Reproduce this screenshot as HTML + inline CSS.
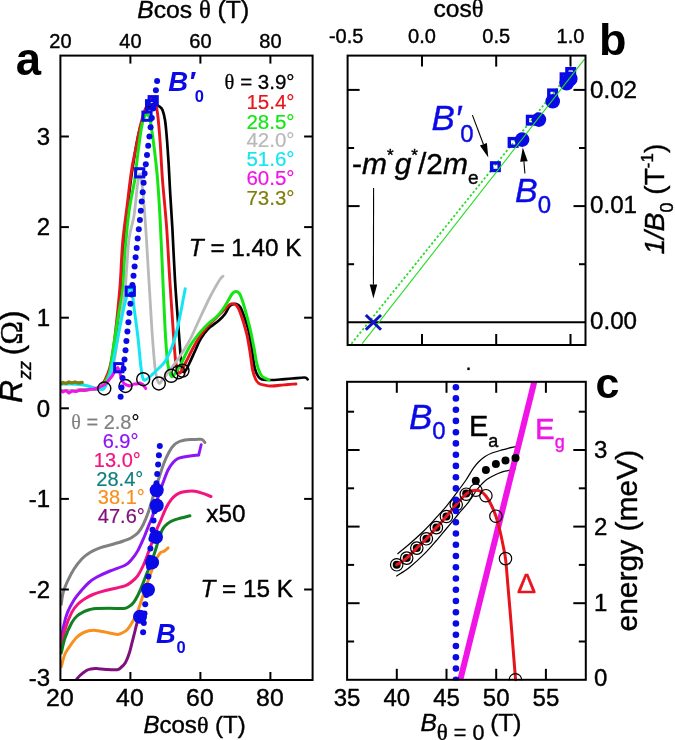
<!DOCTYPE html>
<html lang="en">
<head>
<meta charset="utf-8">
<title>Figure</title>
<style>
html,body{margin:0;padding:0;background:#fff;}
body{width:675px;height:740px;overflow:hidden;font-family:"Liberation Sans",sans-serif;}
svg{display:block;font-family:"Liberation Sans",sans-serif;}
</style>
</head>
<body>
<svg width="675" height="740" viewBox="0 0 675 740">
<rect x="0" y="0" width="675" height="740" fill="#ffffff"/>
<g id="panel-a">
<path d="M61.5,390.5 C63.8,390.5 70.2,390.7 75.0,390.5 C79.8,390.3 85.8,390.0 90.0,389.5 C94.2,389.0 97.0,389.8 100.0,387.5 C103.0,385.2 105.8,381.1 108.0,376.0 C110.2,370.9 111.5,364.7 113.0,357.0 C114.5,349.3 115.7,341.2 117.0,330.0 C118.3,318.8 119.8,304.2 121.0,290.0 C122.2,275.8 123.2,260.0 124.5,245.0 C125.8,230.0 127.1,213.3 128.5,200.0 C129.9,186.7 131.2,176.3 133.0,165.0 C134.8,153.7 136.8,140.8 139.0,132.0 C141.2,123.2 143.7,116.7 146.0,112.0 C148.3,107.3 150.8,104.9 153.0,104.0 C155.2,103.1 157.7,105.4 159.3,106.4 C160.9,107.4 161.6,107.7 162.5,110.0 C163.4,112.3 164.2,115.0 165.0,120.0 C165.8,125.0 166.4,132.5 167.0,140.0 C167.6,147.5 168.1,155.8 168.7,165.0 C169.2,174.2 169.7,184.7 170.3,195.0 C170.9,205.3 171.5,212.8 172.3,227.0 C173.1,241.2 174.0,263.1 175.0,280.0 C176.0,296.9 177.5,314.7 178.5,328.2 C179.5,341.7 180.4,353.9 181.0,361.0 C181.6,368.1 181.8,368.8 182.3,370.6 C182.8,372.4 183.4,372.1 184.0,372.0 C184.6,371.9 185.0,371.7 186.0,370.0 C187.0,368.3 188.5,365.2 190.0,362.0 C191.5,358.8 193.2,354.9 195.0,351.0 C196.8,347.1 198.5,342.5 200.7,338.8 C202.9,335.1 204.9,332.1 208.0,329.0 C211.1,325.9 216.6,322.5 219.4,320.0 C222.2,317.5 223.4,316.2 225.0,314.0 C226.6,311.8 227.8,308.6 229.0,307.0 C230.2,305.4 230.8,305.1 232.0,304.6 C233.2,304.1 234.7,303.6 236.0,304.0 C237.3,304.4 238.7,304.7 240.0,306.7 C241.3,308.7 242.6,312.0 244.0,316.0 C245.4,320.0 247.2,324.8 248.5,330.5 C249.8,336.2 251.0,343.8 252.0,350.0 C253.0,356.2 253.7,363.7 254.7,368.0 C255.7,372.3 256.9,374.2 258.0,376.0 C259.1,377.8 259.2,378.3 261.0,379.0 C262.8,379.7 265.8,379.9 269.0,380.0 C272.2,380.1 276.2,379.8 280.0,379.5 C283.8,379.2 287.9,378.8 292.0,378.5 C296.1,378.2 301.9,377.4 304.5,377.5 C307.1,377.6 307.1,379.0 307.6,379.3" fill="none" stroke="#000000" stroke-width="2.7" stroke-linejoin="round" stroke-linecap="round" />
<path d="M61.5,390.5 C63.8,390.5 70.2,390.7 75.0,390.5 C79.8,390.3 85.8,390.0 90.0,389.5 C94.2,389.0 97.0,390.3 100.0,387.5 C103.0,384.7 106.2,377.6 108.2,372.5 C110.2,367.4 110.7,364.4 112.0,357.0 C113.3,349.6 114.6,340.0 115.9,328.0 C117.2,316.0 119.0,299.1 120.1,285.0 C121.2,270.9 121.4,257.0 122.6,243.3 C123.8,229.6 126.0,214.8 127.5,202.6 C129.0,190.4 130.2,178.8 131.6,170.0 C132.9,161.2 134.1,157.1 135.6,149.6 C137.1,142.1 138.9,132.0 140.5,125.2 C142.1,118.4 143.8,113.0 145.4,108.9 C147.0,104.8 148.8,102.3 150.0,100.5 C151.2,98.7 151.9,98.0 152.7,98.3 C153.5,98.5 154.2,99.4 155.0,102.0 C155.8,104.6 156.8,107.2 157.6,113.8 C158.4,120.4 159.3,130.5 160.1,141.5 C160.9,152.5 161.4,165.8 162.5,180.0 C163.6,194.2 165.4,210.3 166.6,227.0 C167.8,243.7 168.6,261.5 169.8,280.0 C171.0,298.5 172.7,324.3 173.7,337.8 C174.7,351.3 174.9,355.4 175.6,361.0 C176.3,366.6 177.3,369.5 178.0,371.5 C178.7,373.5 179.3,373.2 180.0,373.0 C180.7,372.8 181.0,371.8 182.0,370.0 C183.0,368.2 184.3,365.3 186.0,362.0 C187.7,358.7 189.7,354.3 192.0,350.0 C194.3,345.7 197.3,340.0 200.0,336.0 C202.7,332.0 205.2,329.2 208.0,326.0 C210.8,322.8 214.3,319.7 217.0,317.0 C219.7,314.3 222.0,312.0 224.0,310.0 C226.0,308.0 227.7,306.1 229.0,305.0 C230.3,303.9 230.8,303.6 232.0,303.6 C233.2,303.6 234.7,303.6 236.0,305.0 C237.3,306.4 238.3,307.4 240.0,312.0 C241.7,316.6 244.7,325.9 246.4,332.6 C248.1,339.3 249.0,345.8 250.0,352.0 C251.0,358.2 251.7,365.5 252.6,370.0 C253.5,374.5 254.5,376.8 255.5,379.0 C256.5,381.2 257.4,382.4 258.8,383.4 C260.2,384.4 261.9,384.6 264.0,385.0 C266.1,385.4 268.6,385.9 271.3,386.0 C274.0,386.1 277.2,385.6 280.0,385.3 C282.8,385.1 285.3,384.7 288.0,384.5 C290.7,384.3 294.7,384.1 296.0,384.0" fill="none" stroke="#e8141c" stroke-width="2.9" stroke-linejoin="round" stroke-linecap="round" />
<path d="M61.5,390.5 C63.8,390.5 70.2,390.7 75.0,390.5 C79.8,390.3 85.8,390.0 90.0,389.5 C94.2,389.0 96.8,390.1 100.0,387.5 C103.2,384.9 107.0,379.1 109.0,374.0 C111.0,368.9 110.5,366.2 112.0,357.0 C113.5,347.8 116.0,329.7 117.8,318.5 C119.6,307.3 121.4,301.2 122.6,290.0 C123.8,278.8 123.9,264.7 125.0,251.5 C126.1,238.3 127.5,222.6 129.1,210.7 C130.7,198.8 133.4,188.6 134.8,179.8 C136.2,171.0 136.2,166.4 137.3,157.8 C138.4,149.2 140.2,135.0 141.3,128.4 C142.4,121.8 143.1,120.3 144.0,118.0 C144.9,115.7 146.1,114.6 147.0,114.6 C147.9,114.6 148.8,116.2 149.5,118.0 C150.2,119.8 150.3,119.9 151.1,125.2 C151.9,130.5 153.3,140.5 154.4,149.6 C155.5,158.7 156.7,168.4 157.6,180.0 C158.5,191.6 159.1,200.6 160.1,218.9 C161.1,237.2 162.4,270.2 163.3,290.0 C164.2,309.8 164.8,325.3 165.6,337.8 C166.4,350.3 167.0,358.5 167.9,364.8 C168.8,371.1 170.0,373.5 170.8,375.4 C171.7,377.3 172.1,376.6 173.0,376.0 C173.9,375.4 174.7,374.0 176.0,372.0 C177.3,370.0 178.7,368.3 181.0,364.0 C183.3,359.7 186.7,351.4 190.0,346.0 C193.3,340.6 197.5,335.4 200.7,331.6 C203.9,327.8 206.2,325.6 209.0,323.0 C211.8,320.4 215.0,318.3 217.3,316.0 C219.6,313.7 221.3,311.4 223.0,309.0 C224.7,306.6 226.2,304.0 227.7,301.5 C229.2,299.0 230.7,295.7 232.0,294.0 C233.3,292.3 234.4,291.7 235.6,291.5 C236.8,291.3 237.9,291.7 239.0,293.0 C240.1,294.3 240.8,296.1 242.0,299.4 C243.2,302.7 244.6,307.8 246.0,313.0 C247.4,318.2 249.2,324.7 250.5,330.5 C251.8,336.3 252.9,342.5 254.0,348.0 C255.1,353.5 255.8,359.5 256.8,363.7 C257.8,367.9 259.0,370.8 260.0,373.0 C261.0,375.2 261.5,376.0 263.0,377.2 C264.5,378.4 268.0,379.5 269.0,380.0" fill="none" stroke="#14e614" stroke-width="3.0" stroke-linejoin="round" stroke-linecap="round" />
<path d="M61.5,390.5 C63.8,390.5 70.2,390.7 75.0,390.5 C79.8,390.3 85.8,390.0 90.0,389.5 C94.2,389.0 96.7,389.4 100.0,387.5 C103.3,385.6 107.7,382.2 110.0,378.0 C112.3,373.8 112.5,370.0 114.0,362.0 C115.5,354.0 117.2,342.0 119.0,330.0 C120.8,318.0 123.7,300.4 125.0,290.0 C126.3,279.6 126.0,276.4 126.7,267.8 C127.4,259.2 127.9,247.2 129.1,238.5 C130.3,229.8 132.6,224.3 134.0,215.6 C135.4,206.9 136.4,193.2 137.3,186.3 C138.2,179.4 138.9,174.0 139.7,174.0 C140.5,174.0 141.5,181.1 142.2,186.3 C142.9,191.5 143.3,196.8 144.0,205.0 C144.7,213.2 145.3,221.0 146.2,235.2 C147.1,249.4 148.4,272.9 149.5,290.0 C150.6,307.1 151.5,324.4 152.5,337.8 C153.5,351.2 154.3,363.1 155.4,370.6 C156.5,378.1 157.5,381.6 158.8,383.0 C160.1,384.4 161.5,380.8 163.0,379.0 C164.5,377.2 165.2,376.2 167.9,372.5 C170.7,368.8 175.8,362.5 179.5,357.0 C183.2,351.5 186.6,346.2 190.0,339.7 C193.4,333.2 196.7,325.1 200.0,318.0 C203.3,310.9 207.3,302.3 210.0,297.0 C212.7,291.7 214.2,289.2 216.0,286.0 C217.8,282.8 219.8,279.6 221.0,278.0 C222.2,276.4 222.7,276.5 223.0,276.2" fill="none" stroke="#b9b9b9" stroke-width="2.8" stroke-linejoin="round" stroke-linecap="round" />
<path d="M61.5,384.0 C62.9,384.0 66.9,383.9 70.0,384.0 C73.1,384.1 77.0,384.2 80.0,384.5 C83.0,384.8 85.3,385.3 88.0,386.0 C90.7,386.7 93.6,387.9 96.0,388.5 C98.4,389.1 100.9,389.8 102.5,389.5 C104.1,389.2 104.6,388.1 105.5,386.5 C106.4,384.9 106.9,383.3 108.0,380.0 C109.1,376.7 110.4,373.7 112.0,366.7 C113.6,359.7 115.9,347.4 117.8,337.8 C119.7,328.2 121.8,316.9 123.6,308.9 C125.4,300.9 127.3,293.7 128.4,290.0 C129.5,286.3 129.7,286.3 130.3,286.5 C130.9,286.7 131.3,287.3 132.0,291.0 C132.7,294.7 133.2,301.1 134.2,308.9 C135.2,316.7 136.9,328.2 138.0,337.8 C139.1,347.4 140.0,359.8 140.9,366.7 C141.8,373.6 142.2,377.1 143.2,379.2 C144.2,381.2 145.4,379.8 147.0,379.0 C148.6,378.2 150.7,376.1 152.5,374.4 C154.3,372.7 156.1,370.9 158.0,369.0 C159.9,367.1 162.3,365.1 164.0,362.9 C165.7,360.7 166.7,358.6 168.0,356.0 C169.3,353.4 170.5,351.1 171.8,347.4 C173.1,343.7 174.7,338.8 176.0,334.0 C177.3,329.2 178.4,323.7 179.5,318.5 C180.6,313.3 181.6,308.0 182.5,303.0 C183.4,298.0 184.8,291.1 185.2,288.7" fill="none" stroke="#12e6f2" stroke-width="3.0" stroke-linejoin="round" stroke-linecap="round" />
<path d="M61.5,390.8 L63.0,392.0 L66.0,390.5 L69.0,393.0 L72.0,391.0 L76.0,391.5 L80.0,390.0 L84.0,390.5 L88.9,389.5 L94.0,389.0 L99.0,387.5 L104.3,385.0 L108.0,381.0 L112.0,376.3 L115.0,371.0 L117.8,367.7 L119.5,371.0 L121.7,380.2 L124.0,383.5 L126.5,385.0 L130.0,386.0 L134.0,384.0 L137.0,384.0 L140.0,383.0 L143.0,384.5 L145.7,388.5" fill="none" stroke="#f014e6" stroke-width="3.0" stroke-linejoin="round" stroke-linecap="round" />
<path d="M61.5,383.5 L63.0,382.5 L66.0,383.5 L69.0,382.0 L72.0,383.0 L75.0,382.0 L78.0,383.0 L82.2,382.5" fill="none" stroke="#7f7f10" stroke-width="3.4" stroke-linejoin="round" stroke-linecap="round" />
<path d="M61.3,604.3 C61.6,602.4 62.0,596.8 63.0,593.0 C64.0,589.2 65.6,585.5 67.4,581.5 C69.2,577.5 71.6,572.8 74.0,569.0 C76.4,565.2 79.3,561.5 82.0,558.7 C84.7,556.0 86.9,554.4 90.0,552.5 C93.1,550.6 96.9,548.9 100.6,547.6 C104.3,546.3 108.2,545.6 112.0,544.5 C115.8,543.4 120.3,542.1 123.5,541.0 C126.7,539.9 128.6,539.4 131.0,538.0 C133.4,536.6 135.9,535.1 138.0,532.8 C140.1,530.5 141.8,527.5 143.5,524.0 C145.2,520.5 146.8,516.5 148.4,512.0 C150.0,507.5 151.3,502.5 153.0,497.0 C154.7,491.5 156.9,484.5 158.7,478.8 C160.5,473.1 162.3,467.5 164.0,463.0 C165.7,458.5 167.4,454.9 169.1,451.9 C170.8,448.9 172.3,446.7 174.0,445.0 C175.7,443.3 177.7,442.3 179.5,441.5 C181.3,440.7 183.2,440.4 185.0,440.0 C186.8,439.6 188.6,439.5 190.4,439.4 C192.2,439.3 194.1,439.5 196.0,439.5 C197.9,439.5 200.3,438.9 201.8,439.4 C203.3,439.9 204.4,442.0 204.9,442.5" fill="none" stroke="#808080" stroke-width="3.0" stroke-linejoin="round" stroke-linecap="round" />
<path d="M61.3,640.0 C61.7,637.8 62.5,631.1 63.5,626.5 C64.5,621.9 65.7,617.0 67.4,612.6 C69.2,608.2 71.6,603.8 74.0,600.0 C76.4,596.2 79.5,592.7 82.0,589.8 C84.5,586.9 86.6,584.6 89.0,582.5 C91.4,580.4 93.0,579.2 96.5,577.3 C100.0,575.4 105.2,573.0 110.0,571.0 C114.8,569.0 121.8,567.0 125.5,565.0 C129.2,563.0 129.9,561.4 132.0,559.0 C134.1,556.6 136.0,554.1 138.0,550.4 C140.0,546.7 142.4,541.1 144.2,537.0 C145.9,532.9 147.1,529.5 148.5,526.0 C149.9,522.5 151.0,520.7 152.5,516.2 C154.0,511.7 155.8,504.5 157.5,499.0 C159.2,493.5 161.2,487.8 162.9,483.0 C164.7,478.2 166.3,473.5 168.0,470.0 C169.7,466.5 171.6,464.1 173.3,462.2 C175.0,460.3 176.3,459.4 178.0,458.5 C179.7,457.6 181.6,457.4 183.6,457.0 C185.6,456.6 187.5,456.3 190.0,456.0 C192.5,455.7 197.2,455.2 198.7,455.0" fill="none" stroke="#8f14f5" stroke-width="3.0" stroke-linejoin="round" stroke-linecap="round" />
<path d="M198.7,455.0 L201.2,444.6" fill="none" stroke="#8f14f5" stroke-width="2.8" stroke-linejoin="round" stroke-linecap="round" />
<path d="M61.3,646.0 C61.9,643.2 63.3,635.1 65.0,629.5 C66.7,623.9 69.4,616.9 71.6,612.6 C73.8,608.4 75.6,606.4 78.0,604.0 C80.4,601.6 83.6,599.6 86.1,598.0 C88.6,596.4 90.6,595.5 93.0,594.5 C95.4,593.5 97.4,592.8 100.6,591.9 C103.8,591.0 107.8,590.0 112.0,589.0 C116.2,588.0 122.2,586.9 125.5,585.6 C128.8,584.4 129.9,583.2 132.0,581.5 C134.1,579.8 136.1,578.0 138.0,575.3 C139.9,572.5 141.8,568.8 143.5,565.0 C145.2,561.2 146.9,556.4 148.4,552.4 C149.9,548.4 151.2,544.7 152.5,541.0 C153.8,537.3 155.1,533.5 156.5,530.0 C157.9,526.5 159.2,524.0 160.8,520.3 C162.4,516.6 164.3,511.4 166.0,508.0 C167.7,504.6 169.5,501.8 171.2,499.6 C172.9,497.4 174.3,496.2 176.0,495.0 C177.7,493.8 179.6,492.9 181.6,492.3 C183.6,491.7 185.8,491.5 188.0,491.3 C190.2,491.1 192.5,491.0 195.0,491.3 C197.5,491.6 200.1,492.4 202.8,493.3 C205.5,494.2 209.6,496.0 211.0,496.5" fill="none" stroke="#f41480" stroke-width="3.0" stroke-linejoin="round" stroke-linecap="round" />
<path d="M61.3,653.0 C61.9,650.5 63.3,643.0 65.0,638.0 C66.7,633.0 69.6,626.7 71.6,623.0 C73.6,619.3 74.9,617.9 77.0,616.0 C79.1,614.1 81.8,612.7 84.0,611.6 C86.2,610.5 87.9,610.0 90.0,609.5 C92.1,609.0 93.2,608.7 96.5,608.5 C99.8,608.3 105.5,608.3 110.0,608.3 C114.5,608.3 120.3,608.8 123.5,608.5 C126.7,608.2 127.3,607.5 129.0,606.5 C130.7,605.5 132.3,604.1 133.8,602.2 C135.3,600.3 136.6,597.8 138.0,595.0 C139.4,592.2 140.8,588.9 142.1,585.6 C143.4,582.4 144.6,578.9 146.0,575.5 C147.4,572.1 149.2,568.2 150.4,565.0 C151.7,561.8 152.4,559.1 153.5,556.0 C154.6,552.9 155.7,549.4 156.7,546.2 C157.7,543.0 158.5,539.9 159.5,537.0 C160.5,534.1 161.5,530.9 162.9,528.6 C164.3,526.3 166.3,524.7 168.0,523.3 C169.7,521.9 171.1,521.2 173.3,520.3 C175.5,519.4 178.2,518.8 181.0,518.0 C183.8,517.2 188.4,516.2 189.9,515.8" fill="none" stroke="#108020" stroke-width="3.0" stroke-linejoin="round" stroke-linecap="round" />
<path d="M61.3,666.6 C61.9,664.5 63.3,657.8 65.0,654.0 C66.7,650.2 69.7,646.5 71.6,643.7 C73.5,641.0 74.8,639.2 76.5,637.5 C78.2,635.8 80.1,634.5 82.0,633.4 C83.9,632.3 85.9,631.5 88.0,631.0 C90.1,630.5 91.6,630.0 94.4,630.2 C97.2,630.4 101.2,631.3 105.0,632.0 C108.8,632.7 114.2,634.3 117.2,634.4 C120.2,634.5 121.3,633.4 123.0,632.5 C124.7,631.6 125.9,631.1 127.6,629.2 C129.3,627.3 131.3,624.1 133.0,621.0 C134.7,617.9 136.5,614.2 138.0,610.5 C139.5,606.8 140.6,602.6 142.0,598.5 C143.4,594.4 144.9,589.7 146.3,585.6 C147.7,581.5 149.1,577.8 150.5,574.0 C151.9,570.2 153.4,565.6 154.6,562.8 C155.8,560.0 156.5,558.7 157.5,557.0 C158.5,555.3 159.6,553.4 160.8,552.4 C162.0,551.4 163.3,551.8 164.5,551.0 C165.7,550.2 167.5,548.4 168.1,547.9" fill="none" stroke="#f8901e" stroke-width="3.0" stroke-linejoin="round" stroke-linecap="round" />
<path d="M76.5,679.5 C77.1,678.8 78.4,677.0 80.0,675.5 C81.6,674.0 84.3,671.8 86.1,670.7 C87.9,669.6 89.3,669.4 91.0,669.0 C92.7,668.6 94.0,668.5 96.5,668.6 C99.0,668.7 102.5,669.3 106.0,669.5 C109.5,669.7 114.6,670.1 117.2,669.7 C119.8,669.3 120.1,668.2 121.5,667.0 C122.9,665.8 124.2,664.6 125.5,662.4 C126.8,660.2 128.0,657.1 129.0,654.0 C130.1,650.9 130.9,647.2 131.8,643.7 C132.7,640.2 133.6,636.5 134.5,633.0 C135.4,629.5 136.1,626.0 137.0,623.0 C137.9,620.0 139.5,616.1 140.0,614.7" fill="none" stroke="#80107e" stroke-width="3.0" stroke-linejoin="round" stroke-linecap="round" />
<circle cx="104.3" cy="388.5" r="6.5" fill="none" stroke="#000" stroke-width="1.4"/>
<circle cx="125.5" cy="386.0" r="6.5" fill="none" stroke="#000" stroke-width="1.4"/>
<circle cx="143.2" cy="379.2" r="6.5" fill="none" stroke="#000" stroke-width="1.4"/>
<circle cx="158.8" cy="383.5" r="6.5" fill="none" stroke="#000" stroke-width="1.4"/>
<circle cx="171.2" cy="375.8" r="6.5" fill="none" stroke="#000" stroke-width="1.4"/>
<circle cx="178.5" cy="372.2" r="6.5" fill="none" stroke="#000" stroke-width="1.4"/>
<circle cx="182.5" cy="370.6" r="6.5" fill="none" stroke="#000" stroke-width="1.4"/>
<circle cx="157.1" cy="80.9" r="3.0" fill="#0a0ae6"/>
<circle cx="155.9" cy="90.2" r="3.0" fill="#0a0ae6"/>
<circle cx="154.4" cy="99.4" r="3.0" fill="#0a0ae6"/>
<circle cx="152.9" cy="108.6" r="3.0" fill="#0a0ae6"/>
<circle cx="151.8" cy="117.9" r="3.0" fill="#0a0ae6"/>
<circle cx="150.6" cy="127.2" r="3.0" fill="#0a0ae6"/>
<circle cx="149.4" cy="136.5" r="3.0" fill="#0a0ae6"/>
<circle cx="148.2" cy="145.7" r="3.0" fill="#0a0ae6"/>
<circle cx="147.0" cy="155.0" r="3.0" fill="#0a0ae6"/>
<circle cx="145.8" cy="164.3" r="3.0" fill="#0a0ae6"/>
<circle cx="144.6" cy="173.5" r="3.0" fill="#0a0ae6"/>
<circle cx="143.6" cy="182.8" r="3.0" fill="#0a0ae6"/>
<circle cx="142.7" cy="192.2" r="3.0" fill="#0a0ae6"/>
<circle cx="141.7" cy="201.5" r="3.0" fill="#0a0ae6"/>
<circle cx="140.8" cy="210.8" r="3.0" fill="#0a0ae6"/>
<circle cx="139.9" cy="220.1" r="3.0" fill="#0a0ae6"/>
<circle cx="138.8" cy="229.3" r="3.0" fill="#0a0ae6"/>
<circle cx="137.7" cy="238.6" r="3.0" fill="#0a0ae6"/>
<circle cx="136.7" cy="247.9" r="3.0" fill="#0a0ae6"/>
<circle cx="135.6" cy="257.2" r="3.0" fill="#0a0ae6"/>
<circle cx="134.6" cy="266.5" r="3.0" fill="#0a0ae6"/>
<circle cx="133.5" cy="275.8" r="3.0" fill="#0a0ae6"/>
<circle cx="132.4" cy="285.1" r="3.0" fill="#0a0ae6"/>
<circle cx="131.4" cy="294.4" r="3.0" fill="#0a0ae6"/>
<circle cx="130.4" cy="303.7" r="3.0" fill="#0a0ae6"/>
<circle cx="129.4" cy="313.0" r="3.0" fill="#0a0ae6"/>
<circle cx="128.4" cy="322.3" r="3.0" fill="#0a0ae6"/>
<circle cx="127.4" cy="331.6" r="3.0" fill="#0a0ae6"/>
<circle cx="126.4" cy="340.9" r="3.0" fill="#0a0ae6"/>
<circle cx="125.5" cy="350.2" r="3.0" fill="#0a0ae6"/>
<circle cx="124.5" cy="359.5" r="3.0" fill="#0a0ae6"/>
<circle cx="123.5" cy="368.8" r="3.0" fill="#0a0ae6"/>
<circle cx="122.5" cy="378.1" r="3.0" fill="#0a0ae6"/>
<circle cx="121.5" cy="387.4" r="3.0" fill="#0a0ae6"/>
<circle cx="120.6" cy="396.7" r="3.0" fill="#0a0ae6"/>
<circle cx="159.8" cy="446.0" r="3.0" fill="#0a0ae6"/>
<circle cx="158.9" cy="455.3" r="3.0" fill="#0a0ae6"/>
<circle cx="158.1" cy="464.6" r="3.0" fill="#0a0ae6"/>
<circle cx="157.2" cy="473.9" r="3.0" fill="#0a0ae6"/>
<circle cx="156.5" cy="483.3" r="3.0" fill="#0a0ae6"/>
<circle cx="155.8" cy="492.6" r="3.0" fill="#0a0ae6"/>
<circle cx="155.2" cy="501.9" r="3.0" fill="#0a0ae6"/>
<circle cx="154.5" cy="511.2" r="3.0" fill="#0a0ae6"/>
<circle cx="153.5" cy="520.5" r="3.0" fill="#0a0ae6"/>
<circle cx="152.5" cy="529.8" r="3.0" fill="#0a0ae6"/>
<circle cx="151.4" cy="539.1" r="3.0" fill="#0a0ae6"/>
<circle cx="150.4" cy="548.4" r="3.0" fill="#0a0ae6"/>
<circle cx="149.7" cy="557.7" r="3.0" fill="#0a0ae6"/>
<circle cx="149.1" cy="567.1" r="3.0" fill="#0a0ae6"/>
<circle cx="148.4" cy="576.4" r="3.0" fill="#0a0ae6"/>
<circle cx="147.3" cy="585.7" r="3.0" fill="#0a0ae6"/>
<circle cx="146.3" cy="595.0" r="3.0" fill="#0a0ae6"/>
<circle cx="145.2" cy="604.3" r="3.0" fill="#0a0ae6"/>
<circle cx="144.5" cy="613.6" r="3.0" fill="#0a0ae6"/>
<circle cx="143.8" cy="622.9" r="3.0" fill="#0a0ae6"/>
<circle cx="143.1" cy="632.2" r="3.0" fill="#0a0ae6"/>
<circle cx="156.7" cy="490.2" r="7" fill="#0a0ae6"/>
<circle cx="156.7" cy="505.4" r="7" fill="#0a0ae6"/>
<circle cx="156.0" cy="537.0" r="7" fill="#0a0ae6"/>
<circle cx="152.1" cy="562.4" r="7" fill="#0a0ae6"/>
<circle cx="148.0" cy="589.8" r="7" fill="#0a0ae6"/>
<circle cx="140.0" cy="616.8" r="7" fill="#0a0ae6"/>
<rect x="149.1" y="96.6" width="8.2" height="8.2" fill="none" stroke="#0a0ae6" stroke-width="3"/>
<rect x="146.5" y="100.7" width="8.2" height="8.2" fill="none" stroke="#0a0ae6" stroke-width="3"/>
<rect x="142.9" y="112.1" width="8.2" height="8.2" fill="none" stroke="#0a0ae6" stroke-width="3"/>
<rect x="135.6" y="168.7" width="8.2" height="8.2" fill="none" stroke="#0a0ae6" stroke-width="3"/>
<rect x="126.2" y="287.1" width="8.2" height="8.2" fill="none" stroke="#0a0ae6" stroke-width="3"/>
<rect x="114.7" y="363.6" width="8.2" height="8.2" fill="none" stroke="#0a0ae6" stroke-width="3"/>
<rect x="60.4" y="55.6" width="252.2" height="624.4" fill="none" stroke="#000" stroke-width="2.0"/>
<line x1="130.4" y1="55.6" x2="130.4" y2="63.6" stroke="#000" stroke-width="2.0" />
<line x1="130.4" y1="680.0" x2="130.4" y2="672.0" stroke="#000" stroke-width="2.0" />
<line x1="200.4" y1="55.6" x2="200.4" y2="63.6" stroke="#000" stroke-width="2.0" />
<line x1="200.4" y1="680.0" x2="200.4" y2="672.0" stroke="#000" stroke-width="2.0" />
<line x1="270.4" y1="55.6" x2="270.4" y2="63.6" stroke="#000" stroke-width="2.0" />
<line x1="270.4" y1="680.0" x2="270.4" y2="672.0" stroke="#000" stroke-width="2.0" />
<line x1="60.4" y1="136.5" x2="68.9" y2="136.5" stroke="#000" stroke-width="2.0" />
<line x1="312.6" y1="136.5" x2="304.1" y2="136.5" stroke="#000" stroke-width="2.0" />
<line x1="60.4" y1="227.1" x2="68.9" y2="227.1" stroke="#000" stroke-width="2.0" />
<line x1="312.6" y1="227.1" x2="304.1" y2="227.1" stroke="#000" stroke-width="2.0" />
<line x1="60.4" y1="317.7" x2="68.9" y2="317.7" stroke="#000" stroke-width="2.0" />
<line x1="312.6" y1="317.7" x2="304.1" y2="317.7" stroke="#000" stroke-width="2.0" />
<line x1="60.4" y1="408.3" x2="68.9" y2="408.3" stroke="#000" stroke-width="2.0" />
<line x1="312.6" y1="408.3" x2="304.1" y2="408.3" stroke="#000" stroke-width="2.0" />
<line x1="60.4" y1="498.9" x2="68.9" y2="498.9" stroke="#000" stroke-width="2.0" />
<line x1="312.6" y1="498.9" x2="304.1" y2="498.9" stroke="#000" stroke-width="2.0" />
<line x1="60.4" y1="589.5" x2="68.9" y2="589.5" stroke="#000" stroke-width="2.0" />
<line x1="312.6" y1="589.5" x2="304.1" y2="589.5" stroke="#000" stroke-width="2.0" />
<text x="60.4" y="47.6" font-size="20" fill="#000" stroke="#000" stroke-width="0.4" text-anchor="middle" >20</text>
<text x="59.9" y="706.0" font-size="24.8" fill="#000" stroke="#000" stroke-width="0.4" text-anchor="middle" >20</text>
<text x="130.4" y="47.6" font-size="20" fill="#000" stroke="#000" stroke-width="0.4" text-anchor="middle" >40</text>
<text x="129.9" y="706.0" font-size="24.8" fill="#000" stroke="#000" stroke-width="0.4" text-anchor="middle" >40</text>
<text x="200.4" y="47.6" font-size="20" fill="#000" stroke="#000" stroke-width="0.4" text-anchor="middle" >60</text>
<text x="199.9" y="706.0" font-size="24.8" fill="#000" stroke="#000" stroke-width="0.4" text-anchor="middle" >60</text>
<text x="270.4" y="47.6" font-size="20" fill="#000" stroke="#000" stroke-width="0.4" text-anchor="middle" >80</text>
<text x="269.9" y="706.0" font-size="24.8" fill="#000" stroke="#000" stroke-width="0.4" text-anchor="middle" >80</text>
<text x="50.0" y="144.7" font-size="24" fill="#000" stroke="#000" stroke-width="0.4" text-anchor="end" >3</text>
<text x="50.0" y="235.3" font-size="24" fill="#000" stroke="#000" stroke-width="0.4" text-anchor="end" >2</text>
<text x="50.0" y="325.9" font-size="24" fill="#000" stroke="#000" stroke-width="0.4" text-anchor="end" >1</text>
<text x="50.0" y="416.5" font-size="24" fill="#000" stroke="#000" stroke-width="0.4" text-anchor="end" >0</text>
<text x="50.0" y="507.1" font-size="24" fill="#000" stroke="#000" stroke-width="0.4" text-anchor="end" >-1</text>
<text x="50.0" y="597.7" font-size="24" fill="#000" stroke="#000" stroke-width="0.4" text-anchor="end" >-2</text>
<text x="50.0" y="686.3" font-size="24" fill="#000" stroke="#000" stroke-width="0.4" text-anchor="end" >-3</text>
<text x="137.2" y="17.8" font-size="24.7" fill="#000" stroke="#000" stroke-width="0.4"><tspan font-style="italic">B</tspan>cos <tspan font-family="'Liberation Serif',serif">θ</tspan> (T)</text>
<text x="143.5" y="733" font-size="24" fill="#000" stroke="#000" stroke-width="0.4"><tspan font-style="italic">B</tspan>cos<tspan font-family="'Liberation Serif',serif">θ</tspan> (T)</text>
<text transform="translate(22,403) rotate(-90)" font-size="32" fill="#000" stroke="#000" stroke-width="0.4"><tspan font-style="italic">R</tspan><tspan font-style="italic" font-size="18.5" dy="9" dx="0.5">zz</tspan><tspan dy="-9" dx="-3.5"> (</tspan><tspan font-family="'Liberation Serif',serif">Ω</tspan>)</text>
<text x="15.8" y="74.5" font-size="45.5" fill="#000" font-weight="bold" >a</text>
<text x="294.5" y="89.0" font-size="20.5" text-anchor="end" fill="#000000" stroke="#000000" stroke-width="0.3"><tspan font-family="'Liberation Serif',serif">θ</tspan> = 3.9°</text>
<text x="294.5" y="109.0" font-size="20.5" fill="#e8141c" stroke="#e8141c" stroke-width="0.2" text-anchor="end" >15.4°</text>
<text x="294.5" y="128.5" font-size="20.5" fill="#14e614" stroke="#14e614" stroke-width="0.2" text-anchor="end" >28.5°</text>
<text x="294.5" y="147.0" font-size="20.5" fill="#b9b9b9" stroke="#b9b9b9" stroke-width="0.2" text-anchor="end" >42.0°</text>
<text x="294.5" y="166.0" font-size="20.5" fill="#12e6f2" stroke="#12e6f2" stroke-width="0.2" text-anchor="end" >51.6°</text>
<text x="294.5" y="185.3" font-size="20.5" fill="#f014e6" stroke="#f014e6" stroke-width="0.2" text-anchor="end" >60.5°</text>
<text x="294.5" y="205.3" font-size="20.5" fill="#7f7f10" stroke="#7f7f10" stroke-width="0.2" text-anchor="end" >73.3°</text>
<text x="139.5" y="429.1" font-size="20" text-anchor="end" fill="#808080" stroke="#808080" stroke-width="0.2"><tspan font-family="'Liberation Serif',serif">θ</tspan> = 2.8<tspan fill="#000" stroke="#000">°</tspan></text>
<text x="138.5" y="447.9" font-size="20" fill="#8f14f5" stroke="#8f14f5" stroke-width="0.2" text-anchor="end" >6.9°</text>
<text x="140.8" y="466.7" font-size="20" fill="#f41480" stroke="#f41480" stroke-width="0.2" text-anchor="end" >13.0°</text>
<text x="143.3" y="485.5" font-size="20" fill="#108080" stroke="#108080" stroke-width="0.2" text-anchor="end" >28.4°</text>
<text x="144.8" y="504.3" font-size="20" fill="#f8901e" stroke="#f8901e" stroke-width="0.2" text-anchor="end" >38.1°</text>
<text x="144.8" y="523.1" font-size="20" fill="#80107e" stroke="#80107e" stroke-width="0.2" text-anchor="end" >47.6°</text>
<text x="188.8" y="256" font-size="24.3" fill="#000" stroke="#000" stroke-width="0.4"><tspan font-style="italic">T</tspan> = 1.40 K</text>
<text x="200.5" y="596.7" font-size="24.3" fill="#000" stroke="#000" stroke-width="0.4"><tspan font-style="italic">T</tspan> = 15 K</text>
<text x="206.3" y="522.2" font-size="24.3" fill="#000" stroke="#000" stroke-width="0.4" >x50</text>
<text x="168.3" y="91" font-size="27.5" font-weight="bold" fill="#0a0ae6"><tspan font-style="italic">B′</tspan><tspan font-size="16.5" dy="10.5" dx="0">0</tspan></text>
<text x="156" y="642.7" font-size="27.5" font-weight="bold" fill="#0a0ae6"><tspan font-style="italic">B</tspan><tspan font-size="16.5" dy="10.5" dx="0.5">0</tspan></text>
</g>
<g id="panel-b">
<line x1="351.4" y1="343.7" x2="570.0" y2="72.4" stroke="#22dd22" stroke-width="1.8" stroke-dasharray="2.2 2.2"/>
<line x1="347.6" y1="322.3" x2="585.5" y2="322.3" stroke="#000" stroke-width="2.0" />
<rect x="566.9" y="68.7" width="7.6" height="7.6" fill="none" stroke="#0a0ae6" stroke-width="3.4"/>
<rect x="561.3" y="74.0" width="7.6" height="7.6" fill="none" stroke="#0a0ae6" stroke-width="3.4"/>
<rect x="548.8" y="90.1" width="7.6" height="7.6" fill="none" stroke="#0a0ae6" stroke-width="3.4"/>
<rect x="527.5" y="116.4" width="7.6" height="7.6" fill="none" stroke="#0a0ae6" stroke-width="3.4"/>
<rect x="509.3" y="138.6" width="7.6" height="7.6" fill="none" stroke="#0a0ae6" stroke-width="3.4"/>
<rect x="491.6" y="162.9" width="7.6" height="7.6" fill="none" stroke="#0a0ae6" stroke-width="3.4"/>
<circle cx="570.3" cy="78.7" r="7.3" fill="#0a0ae6"/>
<circle cx="569.5" cy="79.6" r="7.3" fill="#0a0ae6"/>
<circle cx="566.6" cy="83.3" r="7.3" fill="#0a0ae6"/>
<circle cx="552.7" cy="101.3" r="7.3" fill="#0a0ae6"/>
<circle cx="538.9" cy="119.6" r="7.3" fill="#0a0ae6"/>
<circle cx="522.1" cy="139.6" r="7.3" fill="#0a0ae6"/>
<line x1="362.2" y1="343.7" x2="584.5" y2="59.2" stroke="#22dd22" stroke-width="1.1" />
<path d="M365.8,315 L381,329.8 M381,315 L365.8,329.8" stroke="#1212c0" stroke-width="3" fill="none"/>
<line x1="373.6" y1="188.0" x2="373.4" y2="284.4" stroke="#000" stroke-width="1.1" />
<polygon points="373.4,298.4 369.7,284.4 377.2,284.4" fill="#000"/>
<line x1="472.4" y1="115.1" x2="483.4" y2="144.3" stroke="#000" stroke-width="1.1" />
<polygon points="488.3,157.4 479.9,145.6 486.9,143.0" fill="#000"/>
<line x1="524.9" y1="173.5" x2="523.9" y2="161.5" stroke="#000" stroke-width="1.1" />
<polygon points="522.8,147.5 527.7,161.2 520.2,161.8" fill="#000"/>
<rect x="347.6" y="55.6" width="237.9" height="289.4" fill="none" stroke="#000" stroke-width="2.0"/>
<line x1="422.0" y1="55.6" x2="422.0" y2="66.6" stroke="#000" stroke-width="2.0" />
<line x1="422.0" y1="345.0" x2="422.0" y2="334.0" stroke="#000" stroke-width="2.0" />
<line x1="496.2" y1="55.6" x2="496.2" y2="66.6" stroke="#000" stroke-width="2.0" />
<line x1="496.2" y1="345.0" x2="496.2" y2="334.0" stroke="#000" stroke-width="2.0" />
<line x1="570.5" y1="55.6" x2="570.5" y2="66.6" stroke="#000" stroke-width="2.0" />
<line x1="570.5" y1="345.0" x2="570.5" y2="334.0" stroke="#000" stroke-width="2.0" />
<line x1="347.6" y1="89.9" x2="359.6" y2="89.9" stroke="#000" stroke-width="2.0" />
<line x1="585.5" y1="89.9" x2="573.5" y2="89.9" stroke="#000" stroke-width="2.0" />
<line x1="347.6" y1="148.0" x2="354.1" y2="148.0" stroke="#000" stroke-width="2.0" />
<line x1="585.5" y1="148.0" x2="579.0" y2="148.0" stroke="#000" stroke-width="2.0" />
<line x1="347.6" y1="206.1" x2="359.6" y2="206.1" stroke="#000" stroke-width="2.0" />
<line x1="585.5" y1="206.1" x2="573.5" y2="206.1" stroke="#000" stroke-width="2.0" />
<line x1="347.6" y1="264.2" x2="354.1" y2="264.2" stroke="#000" stroke-width="2.0" />
<line x1="585.5" y1="264.2" x2="579.0" y2="264.2" stroke="#000" stroke-width="2.0" />
<text x="346.2" y="42.8" font-size="20" fill="#000" stroke="#000" stroke-width="0.4" text-anchor="middle" >-0.5</text>
<text x="422.0" y="42.8" font-size="20" fill="#000" stroke="#000" stroke-width="0.4" text-anchor="middle" >0.0</text>
<text x="496.2" y="42.8" font-size="20" fill="#000" stroke="#000" stroke-width="0.4" text-anchor="middle" >0.5</text>
<text x="570.5" y="42.8" font-size="20" fill="#000" stroke="#000" stroke-width="0.4" text-anchor="middle" >1.0</text>
<text x="590.0" y="97.9" font-size="24.2" fill="#000" stroke="#000" stroke-width="0.4" >0.02</text>
<text x="590.0" y="213.1" font-size="24.2" fill="#000" stroke="#000" stroke-width="0.4" >0.01</text>
<text x="590.0" y="329.3" font-size="24.2" fill="#000" stroke="#000" stroke-width="0.4" >0.00</text>
<text x="458.5" y="17" font-size="24.5" text-anchor="middle" fill="#000" stroke="#000" stroke-width="0.4">cos<tspan font-family="'Liberation Serif',serif">θ</tspan></text>
<text x="599.0" y="55.3" font-size="45" fill="#000" font-weight="bold" >b</text>
<text transform="translate(663.5,254.5) rotate(-90)" font-size="28" fill="#000" stroke="#000" stroke-width="0.4"><tspan font-style="italic">1/B</tspan><tspan font-size="18" dy="9">0</tspan><tspan dy="-9"> (T</tspan><tspan font-size="17" dy="-11">-1</tspan><tspan dy="11">)</tspan></text>
<text x="431.5" y="130" font-size="35" fill="#0a0ae6" stroke="#0a0ae6" stroke-width="0.4"><tspan font-style="italic">B′</tspan><tspan font-size="24" dy="12" dx="-1.2">0</tspan></text>
<text x="515" y="201.7" font-size="34" fill="#0a0ae6" stroke="#0a0ae6" stroke-width="0.4"><tspan font-style="italic">B</tspan><tspan font-size="24" dy="11.5" dx="0">0</tspan></text>
<text x="352" y="174.4" font-size="30" fill="#000" stroke="#000" stroke-width="0.4">-<tspan font-style="italic">m</tspan><tspan font-size="17" dy="-13">*</tspan><tspan font-style="italic" dy="13" dx="1">g</tspan><tspan font-size="17" dy="-13">*</tspan><tspan dy="13">/2</tspan><tspan font-style="italic">m</tspan><tspan font-size="19" dy="9.5">e</tspan></text>
</g>
<g id="panel-c">
<rect x="467.3" y="367.5" width="2.4" height="2.6" fill="#000"/>
<path d="M397.8,553.7 C399.8,552.0 405.6,547.4 410.0,543.5 C414.4,539.6 420.3,534.3 424.5,530.2 C428.7,526.1 431.3,523.1 435.0,519.0 C438.7,514.9 442.9,510.5 446.7,505.8 C450.5,501.1 454.8,495.3 458.0,491.0 C461.2,486.7 463.4,483.9 466.0,480.0 C468.6,476.1 471.4,471.0 473.6,467.9 C475.8,464.8 477.1,463.4 479.0,461.5 C480.9,459.6 482.5,458.1 484.7,456.7 C486.9,455.3 489.4,454.0 492.0,453.0 C494.6,452.0 497.6,451.3 500.3,450.5 C503.0,449.7 505.5,448.9 508.0,448.3 C510.5,447.7 514.2,447.0 515.5,446.7" fill="none" stroke="#000" stroke-width="1.2" stroke-linejoin="round" stroke-linecap="round" />
<path d="M396.7,576.0 C398.9,574.5 405.4,570.7 410.0,567.0 C414.6,563.3 420.3,558.0 424.6,553.7 C428.9,549.4 432.3,545.3 436.0,541.0 C439.7,536.7 443.2,532.4 446.9,528.0 C450.6,523.6 454.3,519.0 458.0,514.5 C461.7,510.1 466.3,505.0 469.1,501.3 C471.9,497.6 473.1,495.1 475.0,492.5 C476.9,489.9 478.6,487.7 480.3,485.7 C482.1,483.7 483.6,482.0 485.5,480.5 C487.4,479.0 489.3,478.0 491.4,476.8 C493.5,475.6 495.8,474.4 498.0,473.5 C500.2,472.6 501.9,471.9 504.8,471.2 C507.7,470.4 513.7,469.4 515.5,469.0" fill="none" stroke="#000" stroke-width="1.2" stroke-linejoin="round" stroke-linecap="round" />
<line x1="460.3" y1="679.8" x2="534.3" y2="381.8" stroke="#f014e6" stroke-width="6.0" />
<circle cx="396.7" cy="564.8" r="4" fill="#000"/>
<circle cx="406.7" cy="558.1" r="4" fill="#000"/>
<circle cx="416.8" cy="548.1" r="4" fill="#000"/>
<circle cx="426.4" cy="538.8" r="4" fill="#000"/>
<circle cx="436.4" cy="527.6" r="4" fill="#000"/>
<circle cx="446.4" cy="516.5" r="4" fill="#000"/>
<circle cx="456.2" cy="504.7" r="4" fill="#000"/>
<circle cx="466.2" cy="493.5" r="4" fill="#000"/>
<circle cx="475.8" cy="480.8" r="4" fill="#000"/>
<circle cx="485.9" cy="470.1" r="4" fill="#000"/>
<circle cx="495.9" cy="463.9" r="4" fill="#000"/>
<circle cx="505.5" cy="460.5" r="4" fill="#000"/>
<circle cx="515.5" cy="457.9" r="4" fill="#000"/>
<path d="M396.7,564.8 C398.4,563.7 403.3,560.9 406.7,558.1 C410.1,555.3 413.5,551.3 416.8,548.1 C420.1,544.9 423.1,542.2 426.4,538.8 C429.7,535.4 433.1,531.3 436.4,527.6 C439.7,523.9 443.1,520.3 446.4,516.5 C449.7,512.7 453.4,507.9 456.2,504.7 C459.0,501.4 460.9,499.1 463.0,497.0 C465.1,494.9 466.9,493.1 469.0,492.0 C471.1,490.9 473.8,490.3 475.8,490.2 C477.8,490.1 479.3,490.5 481.0,491.5 C482.7,492.5 484.2,493.8 485.9,496.0 C487.6,498.2 489.3,501.1 491.0,504.5 C492.7,507.9 494.4,511.8 495.9,516.2 C497.4,520.6 498.8,526.2 500.0,531.0 C501.2,535.8 502.1,540.4 503.0,545.0 C503.9,549.6 504.7,552.4 505.5,558.6 C506.3,564.8 506.9,573.4 507.6,582.0 C508.4,590.6 509.1,599.5 510.0,610.0 C510.9,620.5 511.9,633.4 512.8,645.0 C513.7,656.6 515.1,674.0 515.6,679.8" fill="none" stroke="#e8141c" stroke-width="3.0" stroke-linejoin="round" stroke-linecap="round" />
<clipPath id="cc"><rect x="347" y="381" width="240" height="299.5"/></clipPath>
<g clip-path="url(#cc)">
<circle cx="396.7" cy="564.8" r="6.2" fill="none" stroke="#000" stroke-width="1.2"/>
<circle cx="406.7" cy="558.1" r="6.2" fill="none" stroke="#000" stroke-width="1.2"/>
<circle cx="416.8" cy="548.1" r="6.2" fill="none" stroke="#000" stroke-width="1.2"/>
<circle cx="426.4" cy="538.8" r="6.2" fill="none" stroke="#000" stroke-width="1.2"/>
<circle cx="436.4" cy="527.6" r="6.2" fill="none" stroke="#000" stroke-width="1.2"/>
<circle cx="446.4" cy="516.5" r="6.2" fill="none" stroke="#000" stroke-width="1.2"/>
<circle cx="456.2" cy="504.7" r="6.2" fill="none" stroke="#000" stroke-width="1.2"/>
<circle cx="466.2" cy="494.2" r="6.2" fill="none" stroke="#000" stroke-width="1.2"/>
<circle cx="475.8" cy="490.2" r="6.2" fill="none" stroke="#000" stroke-width="1.2"/>
<circle cx="485.9" cy="495.7" r="6.2" fill="none" stroke="#000" stroke-width="1.2"/>
<circle cx="495.9" cy="516.2" r="6.2" fill="none" stroke="#000" stroke-width="1.2"/>
<circle cx="505.5" cy="558.6" r="6.2" fill="none" stroke="#000" stroke-width="1.2"/>
<circle cx="515.4" cy="679.8" r="6.2" fill="none" stroke="#000" stroke-width="1.2"/>
</g>
<circle cx="455.9" cy="387.2" r="3.3" fill="#0a0ae6" clip-path="url(#cc)"/>
<circle cx="455.9" cy="398.4" r="3.3" fill="#0a0ae6" clip-path="url(#cc)"/>
<circle cx="455.9" cy="409.7" r="3.3" fill="#0a0ae6" clip-path="url(#cc)"/>
<circle cx="455.9" cy="420.9" r="3.3" fill="#0a0ae6" clip-path="url(#cc)"/>
<circle cx="455.9" cy="432.2" r="3.3" fill="#0a0ae6" clip-path="url(#cc)"/>
<circle cx="455.9" cy="443.4" r="3.3" fill="#0a0ae6" clip-path="url(#cc)"/>
<circle cx="455.9" cy="454.7" r="3.3" fill="#0a0ae6" clip-path="url(#cc)"/>
<circle cx="455.9" cy="465.9" r="3.3" fill="#0a0ae6" clip-path="url(#cc)"/>
<circle cx="455.9" cy="477.2" r="3.3" fill="#0a0ae6" clip-path="url(#cc)"/>
<circle cx="455.9" cy="488.4" r="3.3" fill="#0a0ae6" clip-path="url(#cc)"/>
<circle cx="455.9" cy="499.7" r="3.3" fill="#0a0ae6" clip-path="url(#cc)"/>
<circle cx="455.9" cy="510.9" r="3.3" fill="#0a0ae6" clip-path="url(#cc)"/>
<circle cx="455.9" cy="522.2" r="3.3" fill="#0a0ae6" clip-path="url(#cc)"/>
<circle cx="455.9" cy="533.5" r="3.3" fill="#0a0ae6" clip-path="url(#cc)"/>
<circle cx="455.9" cy="544.7" r="3.3" fill="#0a0ae6" clip-path="url(#cc)"/>
<circle cx="455.9" cy="556.0" r="3.3" fill="#0a0ae6" clip-path="url(#cc)"/>
<circle cx="455.9" cy="567.2" r="3.3" fill="#0a0ae6" clip-path="url(#cc)"/>
<circle cx="455.9" cy="578.5" r="3.3" fill="#0a0ae6" clip-path="url(#cc)"/>
<circle cx="455.9" cy="589.7" r="3.3" fill="#0a0ae6" clip-path="url(#cc)"/>
<circle cx="455.9" cy="601.0" r="3.3" fill="#0a0ae6" clip-path="url(#cc)"/>
<circle cx="455.9" cy="612.2" r="3.3" fill="#0a0ae6" clip-path="url(#cc)"/>
<circle cx="455.9" cy="623.5" r="3.3" fill="#0a0ae6" clip-path="url(#cc)"/>
<circle cx="455.9" cy="634.7" r="3.3" fill="#0a0ae6" clip-path="url(#cc)"/>
<circle cx="455.9" cy="646.0" r="3.3" fill="#0a0ae6" clip-path="url(#cc)"/>
<circle cx="455.9" cy="657.2" r="3.3" fill="#0a0ae6" clip-path="url(#cc)"/>
<circle cx="455.9" cy="668.5" r="3.3" fill="#0a0ae6" clip-path="url(#cc)"/>
<circle cx="455.9" cy="679.7" r="3.3" fill="#0a0ae6" clip-path="url(#cc)"/>
<rect x="347.1" y="381.8" width="238.7" height="298.0" fill="none" stroke="#000" stroke-width="2.0"/>
<line x1="396.8" y1="381.8" x2="396.8" y2="392.8" stroke="#000" stroke-width="2.0" />
<line x1="396.8" y1="679.8" x2="396.8" y2="668.8" stroke="#000" stroke-width="2.0" />
<line x1="446.5" y1="381.8" x2="446.5" y2="392.8" stroke="#000" stroke-width="2.0" />
<line x1="446.5" y1="679.8" x2="446.5" y2="668.8" stroke="#000" stroke-width="2.0" />
<line x1="496.2" y1="381.8" x2="496.2" y2="392.8" stroke="#000" stroke-width="2.0" />
<line x1="496.2" y1="679.8" x2="496.2" y2="668.8" stroke="#000" stroke-width="2.0" />
<line x1="545.9" y1="381.8" x2="545.9" y2="392.8" stroke="#000" stroke-width="2.0" />
<line x1="545.9" y1="679.8" x2="545.9" y2="668.8" stroke="#000" stroke-width="2.0" />
<line x1="347.1" y1="641.5" x2="354.1" y2="641.5" stroke="#000" stroke-width="2.0" />
<line x1="585.8" y1="641.5" x2="578.8" y2="641.5" stroke="#000" stroke-width="2.0" />
<line x1="347.1" y1="603.2" x2="359.6" y2="603.2" stroke="#000" stroke-width="2.0" />
<line x1="585.8" y1="603.2" x2="573.3" y2="603.2" stroke="#000" stroke-width="2.0" />
<line x1="347.1" y1="564.9" x2="354.1" y2="564.9" stroke="#000" stroke-width="2.0" />
<line x1="585.8" y1="564.9" x2="578.8" y2="564.9" stroke="#000" stroke-width="2.0" />
<line x1="347.1" y1="526.6" x2="359.6" y2="526.6" stroke="#000" stroke-width="2.0" />
<line x1="585.8" y1="526.6" x2="573.3" y2="526.6" stroke="#000" stroke-width="2.0" />
<line x1="347.1" y1="488.3" x2="354.1" y2="488.3" stroke="#000" stroke-width="2.0" />
<line x1="585.8" y1="488.3" x2="578.8" y2="488.3" stroke="#000" stroke-width="2.0" />
<line x1="347.1" y1="450.0" x2="359.6" y2="450.0" stroke="#000" stroke-width="2.0" />
<line x1="585.8" y1="450.0" x2="573.3" y2="450.0" stroke="#000" stroke-width="2.0" />
<line x1="347.1" y1="411.7" x2="354.1" y2="411.7" stroke="#000" stroke-width="2.0" />
<line x1="585.8" y1="411.7" x2="578.8" y2="411.7" stroke="#000" stroke-width="2.0" />
<text x="347.1" y="706.0" font-size="24" fill="#000" stroke="#000" stroke-width="0.4" text-anchor="middle" >35</text>
<text x="396.8" y="706.0" font-size="24" fill="#000" stroke="#000" stroke-width="0.4" text-anchor="middle" >40</text>
<text x="446.5" y="706.0" font-size="24" fill="#000" stroke="#000" stroke-width="0.4" text-anchor="middle" >45</text>
<text x="496.2" y="706.0" font-size="24" fill="#000" stroke="#000" stroke-width="0.4" text-anchor="middle" >50</text>
<text x="545.9" y="706.0" font-size="24" fill="#000" stroke="#000" stroke-width="0.4" text-anchor="middle" >55</text>
<text x="594.0" y="685.8" font-size="24" fill="#000" stroke="#000" stroke-width="0.4" >0</text>
<text x="594.0" y="611.2" font-size="24" fill="#000" stroke="#000" stroke-width="0.4" >1</text>
<text x="594.0" y="534.6" font-size="24" fill="#000" stroke="#000" stroke-width="0.4" >2</text>
<text x="594.0" y="458.0" font-size="24" fill="#000" stroke="#000" stroke-width="0.4" >3</text>
<text x="595.6" y="397.8" font-size="43" fill="#000" font-weight="bold" >c</text>
<text transform="translate(636.5,631.5) rotate(-90)" font-size="30" fill="#000" stroke="#000" stroke-width="0.4">energy (meV)</text>
<text x="420.5" y="731" font-size="24.5" fill="#000" stroke="#000" stroke-width="0.4"><tspan font-style="italic">B</tspan><tspan font-size="23" dy="8.6" font-family="'Liberation Serif',serif">θ</tspan><tspan font-size="21.5"> = 0</tspan><tspan dy="-9" dx="-1"> (T)</tspan></text>
<text x="409" y="429.3" font-size="35" fill="#0a0ae6" stroke="#0a0ae6" stroke-width="0.4"><tspan font-style="italic">B</tspan><tspan font-size="24" dy="9.5">0</tspan></text>
<text x="469" y="436.3" font-size="29" fill="#000" stroke="#000" stroke-width="0.4">E<tspan font-size="18" dy="10.5">a</tspan></text>
<text x="535" y="438.5" font-size="29.5" fill="#f014e6" stroke="#f014e6" stroke-width="0.4">E<tspan font-size="18" dy="9">g</tspan></text>
<text x="517.0" y="593.0" font-size="28.5" fill="#e8141c" stroke="#e8141c" stroke-width="0.4" >Δ</text>
</g>
</svg>
</body>
</html>
